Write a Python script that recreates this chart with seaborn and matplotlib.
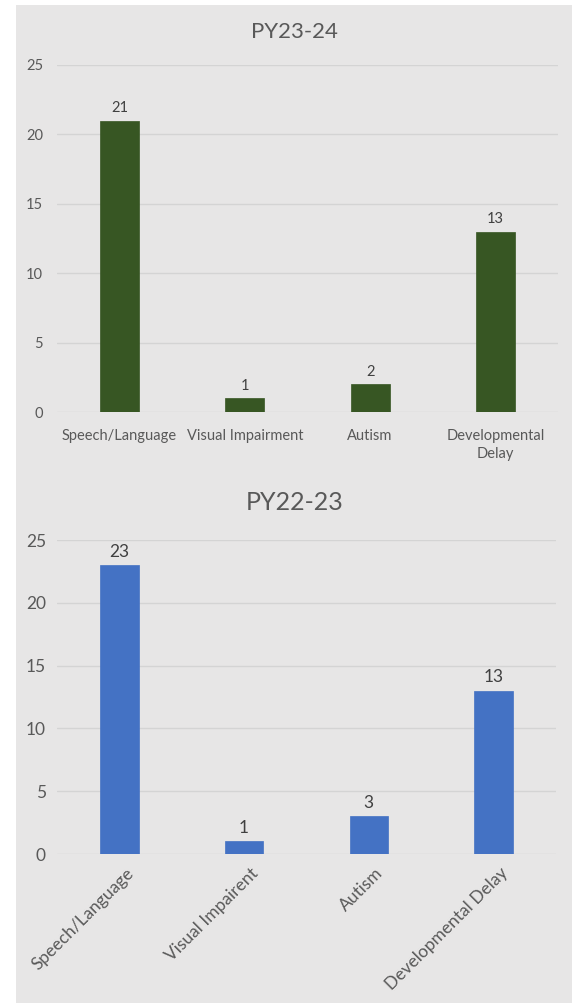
import seaborn as sns
import matplotlib.pyplot as plt
from matplotlib.patches import Rectangle
from matplotlib.transforms import ScaledTranslation

# Data
top_categories = ["Speech/Language", "Visual Impairment", "Autism", "Developmental\nDelay"]
top_values = [21, 1, 2, 13]
bottom_categories = ["Speech/Language", "Visual Impairent", "Autism", "Developmental Delay"]
bottom_values = [23, 1, 3, 13]
y_ticks = [0, 5, 10, 15, 20, 25]

sns.set_theme(style="white")
plt.rcParams['font.family'] = ['Lato', 'DejaVu Sans']

W, H = 579, 1005
fig = plt.figure(figsize=(W / 100, H / 100), dpi=100)
fig.patch.set_facecolor("white")

bg = "#e7e6e6"
grid_c = "#d4d4d4"
text_c = "#595959"

# gray panel behind both charts
fig.patches.append(Rectangle((16 / W, 1 - 1003 / H), (572 - 16) / W, (1003 - 5) / H,
                             transform=fig.transFigure, facecolor=bg, edgecolor="none", zorder=-10))


def px_axes(x0, x1, ytop, ybot):
    return fig.add_axes([x0 / W, 1 - ybot / H, (x1 - x0) / W, (ybot - ytop) / H])


def style(ax, fs, ypad):
    ax.set_facecolor("none")
    ax.set_zorder(1)
    ax.set_ylim(0, 25)
    ax.set_yticks(y_ticks)
    ax.set_xlim(-0.5, 3.5)
    for s in ax.spines.values():
        s.set_visible(False)
    ax.yaxis.grid(True, color=grid_c, linewidth=1)
    ax.set_axisbelow(True)
    ax.tick_params(axis="both", length=0, colors=text_c, labelsize=fs)
    ax.tick_params(axis="y", pad=ypad)
    ax.set_xlabel("")
    ax.set_ylabel("")


# top chart
ax1 = px_axes(57, 558, 65, 412)
sns.barplot(x=top_categories, y=top_values, color="#375623", saturation=1, width=0.31,
            edgecolor="#375623", linewidth=0.5, ax=ax1)
style(ax1, 10.5, 10)
ax1.tick_params(axis="x", pad=12)
for lab in ax1.get_xticklabels():
    lab.set_linespacing(1.4)
for c in ax1.containers:
    ax1.bar_label(c, padding=4, color="#404040", fontsize=10.5)
fig.text(294.5 / W, 1 - 32 / H, "PY23-24", ha="center", va="center", fontsize=16, color=text_c)

# bottom chart
ax2 = px_axes(57, 556, 540, 854)
sns.barplot(x=bottom_categories, y=bottom_values, color="#4472c4", saturation=1, width=0.31,
            edgecolor="#4472c4", linewidth=0.5, ax=ax2)
style(ax2, 12.5, 8)
ax2.tick_params(axis="x", pad=8)
shift = ScaledTranslation(6 / 100, 0, fig.dpi_scale_trans)
for lab in ax2.get_xticklabels():
    lab.set_rotation(45)
    lab.set_ha("right")
    lab.set_rotation_mode("anchor")
    lab.set_transform(lab.get_transform() + shift)
for c in ax2.containers:
    ax2.bar_label(c, padding=4, color="#404040", fontsize=12.5)
fig.text(294.5 / W, 1 - 502 / H, "PY22-23", ha="center", va="center", fontsize=18, color=text_c)

fig.savefig("out.png", dpi=100)
